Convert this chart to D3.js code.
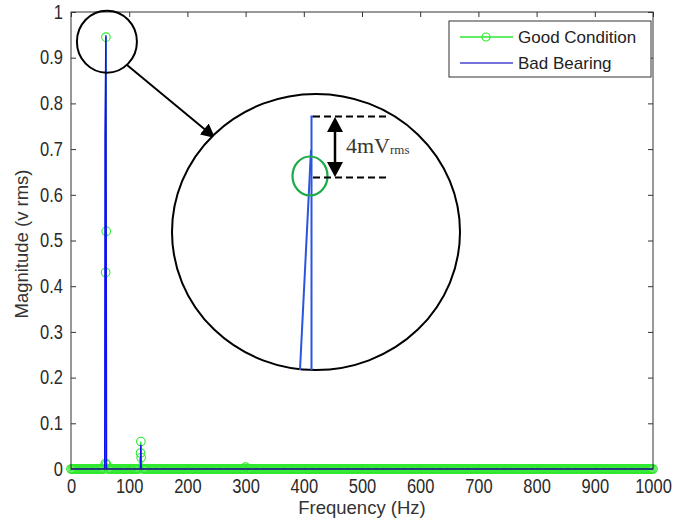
<!DOCTYPE html>
<html>
<head>
<meta charset="utf-8">
<script src="https://cdn.jsdelivr.net/npm/d3@7"></script>
<style>
  html, body { margin: 0; padding: 0; background: #fff; }
  svg { display: block; }
</style>
</head>
<body>
<svg id="chart" width="673" height="522"></svg>
<script>
// ---- data ----
const xTicks = [0, 100, 200, 300, 400, 500, 600, 700, 800, 900, 1000];
const yTicks = [0, 0.1, 0.2, 0.3, 0.4, 0.5, 0.6, 0.7, 0.8, 0.9, 1];
const seriesNames = ["Good Condition", "Bad Bearing"];

// Good condition: peaks (frequency Hz, magnitude V rms); elsewhere ~0
const goodPeakFreq = [59, 59.5, 60, 60.5, 61, 119.5, 120, 120.5, 300];
const goodPeakMag  = [0.012, 0.43, 0.945, 0.52, 0.01, 0.035, 0.06, 0.025, 0.004];
// Bad bearing: peaks
const badPeakFreq = [58, 58.5, 60, 61, 119.5, 120, 120.5];
const badPeakMag  = [0, 0.73, 0.949, 0, 0, 0.053, 0];
// frequency grid of the (near zero) spectrum floor, every 2 Hz
const floorFreq = d3.range(0, 1001, 2);

function buildSeries(pf, pm) {
  const pts = floorFreq.filter(f => !pf.some(p => Math.abs(p - f) < 1.6)).map(f => ({f, v: 0}));
  pf.forEach((f, i) => pts.push({f, v: pm[i]}));
  pts.sort((a, b) => a.f - b.f);
  return pts;
}
const good = buildSeries(goodPeakFreq, goodPeakMag);
const bad = buildSeries(badPeakFreq, badPeakMag);

// ---- layout ----
const svg = d3.select("#chart");
const L = 71, R = 653, T = 12, B = 469;
const x = d3.scaleLinear().domain([0, 1000]).range([L, R]);
const y = d3.scaleLinear().domain([0, 1]).range([B, T]);
const font = "'Liberation Sans', Arial, sans-serif";
const axisColor = "#333";
const green = "#2ee82e";
const blue = "#1010f0";
const stretch = 1.18;

svg.append("rect").attr("x", L).attr("y", T).attr("width", R - L).attr("height", B - T)
  .attr("fill", "#fff").attr("stroke", "none");

function styleAxis(g) {
  g.selectAll(".domain").remove();
  g.selectAll(".tick line").attr("stroke", axisColor);
  g.selectAll(".tick text").attr("fill", "#2a2a2a").style("font-family", font).style("font-size", "16.5px")
    .attr("transform", `scale(1,${stretch})`);
}
svg.append("g").attr("transform", `translate(0,${B})`)
  .call(d3.axisBottom(x).tickValues(xTicks).tickSizeInner(-5).tickSizeOuter(0).tickPadding(8.5).tickFormat(d3.format("d")))
  .call(styleAxis);
svg.append("g").attr("transform", `translate(0,${T})`)
  .call(d3.axisTop(x).tickValues(xTicks).tickSizeInner(-5).tickSizeOuter(0).tickFormat(""))
  .call(styleAxis);
svg.append("g").attr("transform", `translate(${L},0)`)
  .call(d3.axisLeft(y).tickValues(yTicks).tickSizeInner(-5).tickSizeOuter(0).tickPadding(8).tickFormat(d => d === 0 ? "0" : d === 1 ? "1" : d3.format(".1f")(d)))
  .call(styleAxis);
svg.append("g").attr("transform", `translate(${R},0)`)
  .call(d3.axisRight(y).tickValues(yTicks).tickSizeInner(-5).tickSizeOuter(0).tickFormat(""))
  .call(styleAxis);

// data
const line = d3.line().x(d => x(d.f)).y(d => y(d.v));
svg.append("path").datum(good).attr("d", line).attr("fill", "none").attr("stroke", green).attr("stroke-width", 1);
svg.append("g").selectAll("circle").data(good).join("circle")
  .attr("cx", d => x(d.f)).attr("cy", d => y(d.v)).attr("r", 4.3)
  .attr("fill", "none").attr("stroke", green).attr("stroke-width", 1.1);
svg.append("path").datum(bad).attr("d", line).attr("fill", "none").attr("stroke", blue).attr("stroke-width", 1.5);

svg.append("rect").attr("x", L).attr("y", T).attr("width", R - L).attr("height", B - T)
  .attr("fill", "none").attr("stroke", axisColor).attr("stroke-width", 1);

// axis labels
svg.append("text").attr("x", (L + R) / 2).attr("y", 514).attr("text-anchor", "middle")
  .style("font-family", font).style("font-size", "18.5px").attr("fill", "#333").text("Frequency (Hz)");
svg.append("text").attr("transform", "translate(28,244) rotate(-90)").attr("text-anchor", "middle")
  .style("font-family", font).style("font-size", "18.5px").attr("fill", "#333").text("Magnitude (v rms)");

// legend
const lg = svg.append("g");
lg.append("rect").attr("x", 449).attr("y", 21).attr("width", 202).attr("height", 56)
  .attr("fill", "#fff").attr("stroke", "#333").attr("stroke-width", 1);
const legendItems = [{name: seriesNames[0], color: green, marker: true, y: 37},
                     {name: seriesNames[1], color: "#4444cc", marker: false, y: 63}];
legendItems.forEach(it => {
  lg.append("line").attr("x1", 460).attr("x2", 513).attr("y1", it.y).attr("y2", it.y)
    .attr("stroke", it.color).attr("stroke-width", 1.3);
  if (it.marker) lg.append("circle").attr("cx", 486).attr("cy", it.y).attr("r", 4)
    .attr("fill", "none").attr("stroke", it.color).attr("stroke-width", 1.2);
  lg.append("text").attr("x", 518).attr("y", it.y + 6).style("font-family", font).style("font-size", "17px")
    .attr("fill", "#222").text(it.name);
});

// ---- annotations ----
const ann = svg.append("g");
const defs = svg.append("defs");
defs.append("marker").attr("id", "ah").attr("viewBox", "0 0 10 10").attr("refX", 9).attr("refY", 5)
  .attr("markerWidth", 7).attr("markerHeight", 7).attr("markerUnits", "strokeWidth").attr("orient", "auto")
  .append("path").attr("d", "M0,0 L10,5 L0,10 Z").attr("fill", "#000");

ann.append("ellipse").attr("cx", x(60) + 1).attr("cy", y(0.935)).attr("rx", 30).attr("ry", 31)
  .attr("fill", "none").attr("stroke", "#000").attr("stroke-width", 2);
ann.append("line").attr("x1", 127).attr("y1", 65).attr("x2", 214).attr("y2", 137)
  .attr("stroke", "#000").attr("stroke-width", 2).attr("marker-end", "url(#ah)");

ann.append("ellipse").attr("cx", 316).attr("cy", 232).attr("rx", 144).attr("ry", 138)
  .attr("fill", "#fff").attr("stroke", "#000").attr("stroke-width", 2);
ann.append("path").attr("d", "M311.5,370 L311.5,116.5 L313.5,116.5").attr("fill", "none")
  .attr("stroke", "#2a55dd").attr("stroke-width", 2);
ann.append("line").attr("x1", 300).attr("y1", 370).attr("x2", 311).attr("y2", 150)
  .attr("stroke", "#2a55dd").attr("stroke-width", 2);
ann.append("ellipse").attr("cx", 310).attr("cy", 176).attr("rx", 17.5).attr("ry", 19.5)
  .attr("fill", "none").attr("stroke", "#1eaa4a").attr("stroke-width", 2.2);
[116.5, 177.5].forEach(yy => ann.append("line").attr("x1", 313).attr("x2", 388).attr("y1", yy).attr("y2", yy)
  .attr("stroke", "#000").attr("stroke-width", 2).attr("stroke-dasharray", "7,4"));
ann.append("line").attr("x1", 335).attr("x2", 335).attr("y1", 128).attr("y2", 166)
  .attr("stroke", "#000").attr("stroke-width", 2.5);
ann.append("path").attr("d", "M335,117 L343,132 L327,132 Z").attr("fill", "#000");
ann.append("path").attr("d", "M335,177 L343,162 L327,162 Z").attr("fill", "#000");
const t = ann.append("text").attr("x", 346).attr("y", 153)
  .style("font-family", "'Liberation Serif', 'Times New Roman', serif").attr("fill", "#3a3530");
t.append("tspan").style("font-size", "22px").text("4mV");
t.append("tspan").style("font-size", "13px").attr("dy", 1).text("rms");
</script>
</body>
</html>
